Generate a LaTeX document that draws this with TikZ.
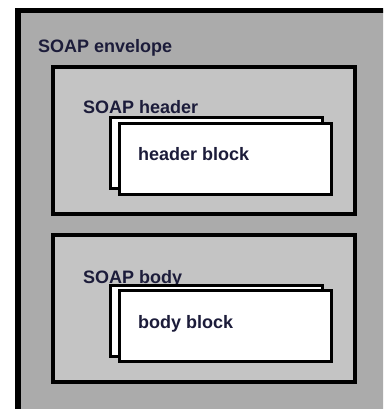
\documentclass[tikz,border=0pt]{standalone}
\usepackage{fontspec}
\setmainfont{Liberation Sans}
\usetikzlibrary{shapes}

\definecolor{envgray}{RGB}{171,171,171}
\definecolor{partgray}{RGB}{196,196,196}
\definecolor{inkblue}{RGB}{28,28,58}

\begin{document}
\begin{tikzpicture}[x=1pt,y=-1pt]
	\tikzstyle{frame} = [draw=black, rectangle, inner sep=0pt]
	\tikzstyle{envelope} = [frame, line width=5.5pt, fill=envgray, minimum width=402pt, minimum height=430pt]
	\tikzstyle{part} = [frame, line width=4.5pt, fill=partgray, minimum width=302pt, minimum height=147pt]
	\tikzstyle{block} = [frame, line width=3pt, fill=white, minimum width=212pt, minimum height=71pt]
	\tikzstyle{label} = [inner sep=0pt, anchor=base west, text=inkblue, font=\fontsize{18}{22}\selectfont\bfseries]

	\useasboundingbox (0,0) rectangle (383,409);
	\clip (0,0) rectangle (383,409);

	\node[envelope] (Env) at (219,225.5) {};
	\node[label] (EnvLabel) at (38,53) {SOAP envelope};

	% header part
	\node[part] (Header) at (204,140.5) {};
	\node[label] (HeaderLabel) at (83,113.5) {SOAP header};
	\node[block] (HeadBack) at (216,153) {};
	\node[block] (HeadFront) at (225.5,159) {};
	\node[label] (HeadText) at (138,160) {header block};

	% body part
	\node[part] (Body) at (204,308.5) {};
	\node[label] (BodyLabel) at (83,283) {SOAP body};
	\node[block] (BodyBack) at (216,320.5) {};
	\node[block] (BodyFront) at (225,326) {};
	\node[label] (BodyText) at (138,328) {body block};
\end{tikzpicture}
\end{document}
